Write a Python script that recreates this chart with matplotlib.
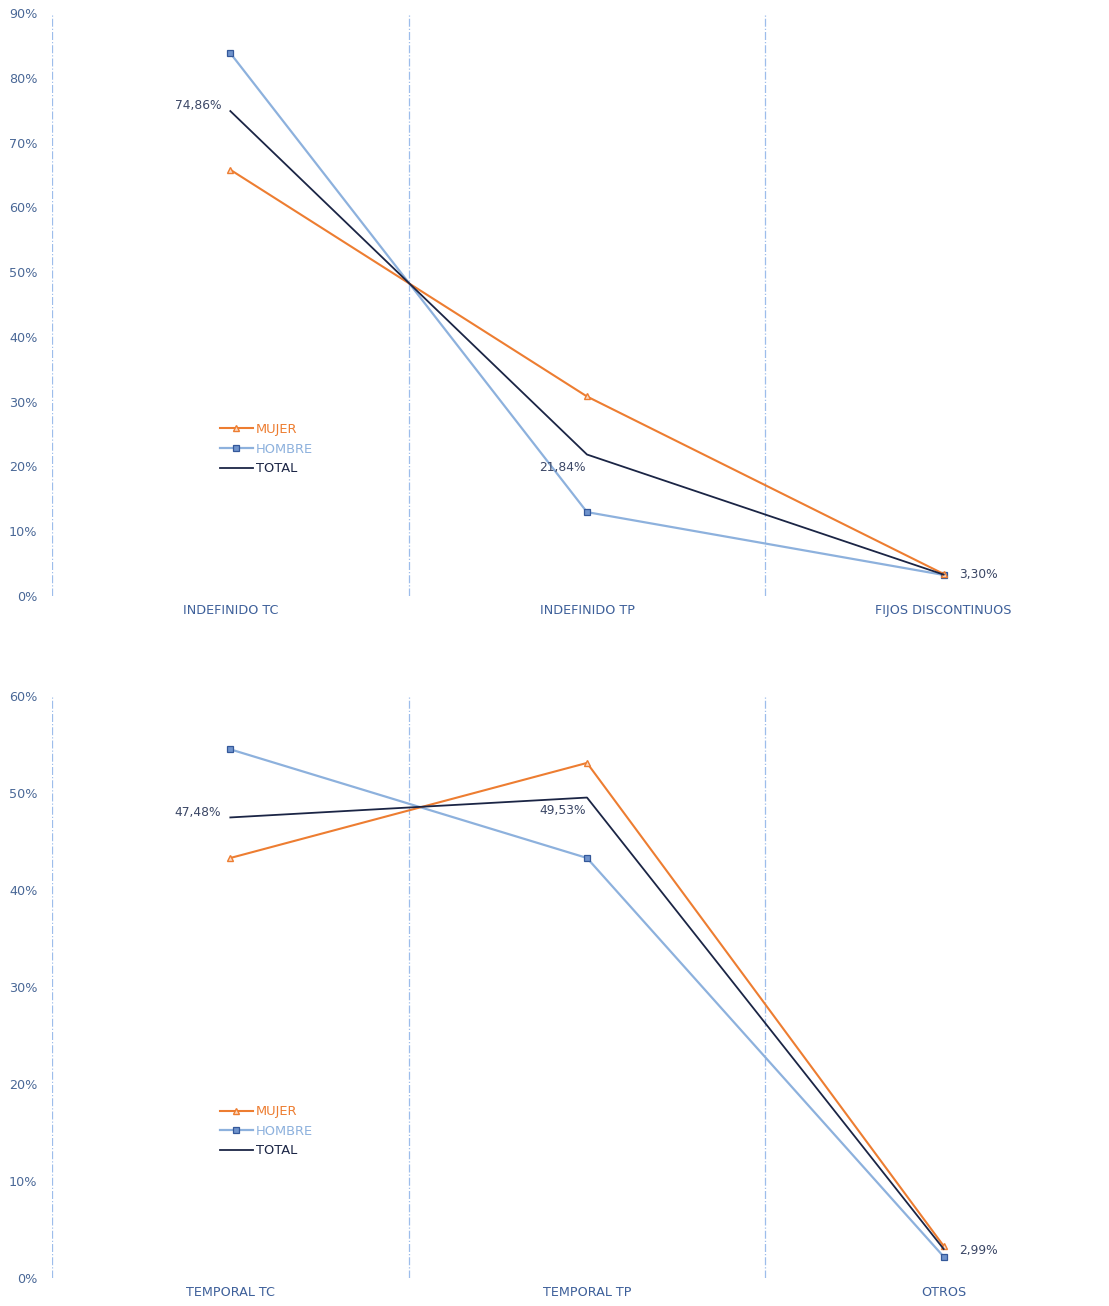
import numpy as np
import matplotlib
matplotlib.use("Agg")
import matplotlib.pyplot as plt
from matplotlib.ticker import FixedLocator, FuncFormatter

plt.rcParams["font.family"] = ["DejaVu Sans"]

# data (percent)
cats_top = ["INDEFINIDO TC", "INDEFINIDO TP", "FIJOS DISCONTINUOS"]
mujer_top = [65.8, 30.8, 3.4]
hombre_top = [83.8, 12.95, 3.25]
total_top = [74.86, 21.84, 3.30]

cats_bot = ["TEMPORAL TC", "TEMPORAL TP", "OTROS"]
mujer_bot = [43.3, 53.1, 3.3]
hombre_bot = [54.5, 43.3, 2.2]
total_bot = [47.48, 49.53, 2.99]

C_MUJER = "#ED7D31"
C_HOMBRE = "#8DB1DD"
C_TOTAL = "#1B2545"
C_TICK = "#4A6897"
C_CAT = "#3E609A"
C_LABEL = "#3B4766"
C_DIV = "#9DBDEB"

W, H = 1109, 1306


def draw_panel(ax, cats, mujer, hombre, total, ymax, label_offsets):
    x = np.arange(len(cats))
    ax.plot(x, mujer, color=C_MUJER, lw=1.5, marker="^", ms=4.5,
            mfc="#FBD9C2", mec=C_MUJER, mew=1.0, label="MUJER", zorder=3)
    ax.plot(x, hombre, color=C_HOMBRE, lw=1.6, marker="s", ms=4.2,
            mfc="#6F93CC", mec="#34589A", mew=0.9, label="HOMBRE", zorder=2)
    ax.plot(x, total, color=C_TOTAL, lw=1.3, label="TOTAL", zorder=4)

    for xi, val, (dx, dy, ha) in zip(x, total, label_offsets):
        ax.annotate(f"{val:.2f}%".replace(".", ","), (xi, val),
                    xytext=(dx, dy), textcoords="offset pixels",
                    ha=ha, va="center", fontsize=8.8, color=C_LABEL)

    # divider lines between categories
    for d in [-0.5, 0.5, 1.5, 2.5]:
        ax.axvline(d, color=C_DIV, lw=0.9, ls="-.", zorder=1)

    ax.set_xlim(-0.5, 2.5)
    ax.set_ylim(0, ymax)
    ax.yaxis.set_major_locator(FixedLocator(np.arange(0, ymax + 1, 10)))
    ax.yaxis.set_major_formatter(FuncFormatter(lambda v, p: f"{v:.0f}%"))
    ax.set_xticks(x)
    ax.set_xticklabels(cats)
    ax.tick_params(axis="y", length=0, pad=10.5, labelsize=9.2, labelcolor=C_TICK)
    ax.tick_params(axis="x", length=0, pad=6, labelsize=9.2, labelcolor=C_CAT)
    for s in ax.spines.values():
        s.set_visible(False)

    leg = ax.legend(loc="center left", bbox_to_anchor=(0.151, 0.252),
                    frameon=False, fontsize=9.4, handlelength=2.5,
                    handletextpad=0.25, borderpad=0, labelspacing=0.5,
                    labelcolor="linecolor")
    return leg


fig = plt.figure(figsize=(W / 100, H / 100), dpi=100)

left = 52 / W
right = 1122 / W
ax1 = fig.add_axes([left, 1 - 596 / H, right - left, (596 - 13) / H])
ax2 = fig.add_axes([left, 1 - 1278 / H, right - left, (1278 - 696) / H])

draw_panel(ax1, cats_top, mujer_top, hombre_top, total_top, 90,
           [(-9, 6, "right"), (-1, -13, "right"), (15, 0, "left")])
draw_panel(ax2, cats_bot, mujer_bot, hombre_bot, total_bot, 60,
           [(-9, 5, "right"), (-1, -13, "right"), (15, -2, "left")])

fig.savefig("out.png", dpi=100)
